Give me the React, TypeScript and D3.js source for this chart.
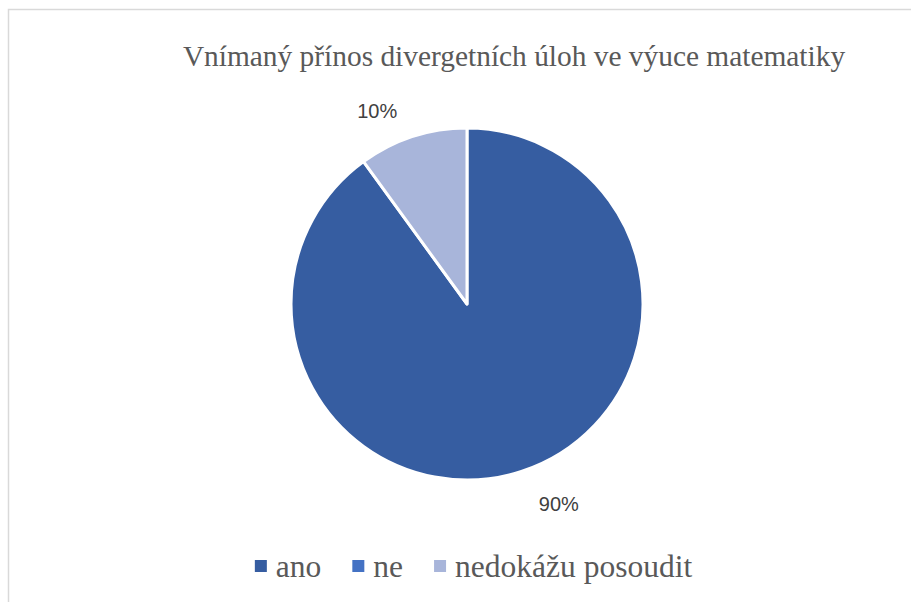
import React, { useEffect, useRef } from "react";
import * as d3 from "d3";

const title = "Vnímaný přínos divergetních úloh ve výuce matematiky";
const categories = ["ano", "ne", "nedokážu posoudit"];
const values = [90, 0, 10];
const colors = ["#365DA1", "#4472C4", "#A8B5DA"];

const W = 911;
const H = 602;

export default function App() {
  const ref = useRef<SVGSVGElement>(null);

  useEffect(() => {
    const svg = d3.select(ref.current);
    svg.selectAll("*").remove();

    // chart border
    svg.append("rect").attr("x", 8.5).attr("y", 9.5).attr("width", 920).attr("height", 620)
      .attr("fill", "#fff").attr("stroke", "#d9d9d9").attr("stroke-width", 1.5);

    svg.append("text").attr("x", 514).attr("y", 66).attr("text-anchor", "middle")
      .attr("font-family", "Liberation Serif").attr("font-size", 29.4).attr("fill", "#595959")
      .text(title);

    const cx = 467, cy = 304, R = 176;
    const data = categories.map((c, i) => ({ c, v: values[i], color: colors[i] }));
    const pie = d3.pie<any>().value((d: any) => d.v).sort(null);
    const arcs = pie(data);
    const arc = d3.arc<any>().innerRadius(0).outerRadius(R);
    const g = svg.append("g").attr("transform", `translate(${cx},${cy})`);
    g.selectAll("path").data(arcs.filter((a) => a.data.v > 0)).enter().append("path")
      .attr("d", arc as any).attr("fill", (d: any) => d.data.color)
      .attr("stroke", "#fff").attr("stroke-width", 3).attr("stroke-linejoin", "round");

    const total = d3.sum(values);
    arcs.filter((a) => a.data.v > 0).forEach((a) => {
      const mid = (a.startAngle + a.endAngle) / 2;
      const r = R + 24;
      const x = Math.sin(mid) * r;
      const y = -Math.cos(mid) * r;
      const right = Math.sin(mid) >= 0;
      const top = Math.cos(mid) > 0;
      g.append("text").attr("x", right ? x + 10 : x - 8).attr("y", top ? y + 4 : y + 2)
        .attr("text-anchor", right ? "start" : "end")
        .attr("dominant-baseline", top ? "auto" : "hanging")
        .attr("font-family", "Liberation Sans").attr("font-size", 20).attr("fill", "#404040")
        .text(`${Math.round((a.data.v / total) * 100)}%`);
    });

    // legend
    const lg = svg.append("g");
    const items: { w: number; node: any; sq: any }[] = [];
    data.forEach((d) => {
      const sq = lg.append("rect").attr("width", 12).attr("height", 12).attr("fill", d.color);
      const t = lg.append("text").attr("font-family", "Liberation Serif").attr("font-size", 31.5)
        .attr("fill", "#595959").text(d.c);
      const w = (t.node() as SVGTextElement).getComputedTextLength();
      items.push({ w, node: t, sq });
    });
    const gapSq = 9, gapItem = 31;
    const totalW = d3.sum(items, (it) => 12 + gapSq + it.w) + gapItem * (items.length - 1);
    let x0 = 473.5 - totalW / 2;
    items.forEach((it) => {
      it.sq.attr("x", x0).attr("y", 560);
      it.node.attr("x", x0 + 12 + gapSq).attr("y", 577);
      x0 += 12 + gapSq + it.w + gapItem;
    });
  }, []);

  return (
    <svg ref={ref} width={W} height={H} style={{ position: "absolute", left: 0, top: 0 }} />
  );
}
